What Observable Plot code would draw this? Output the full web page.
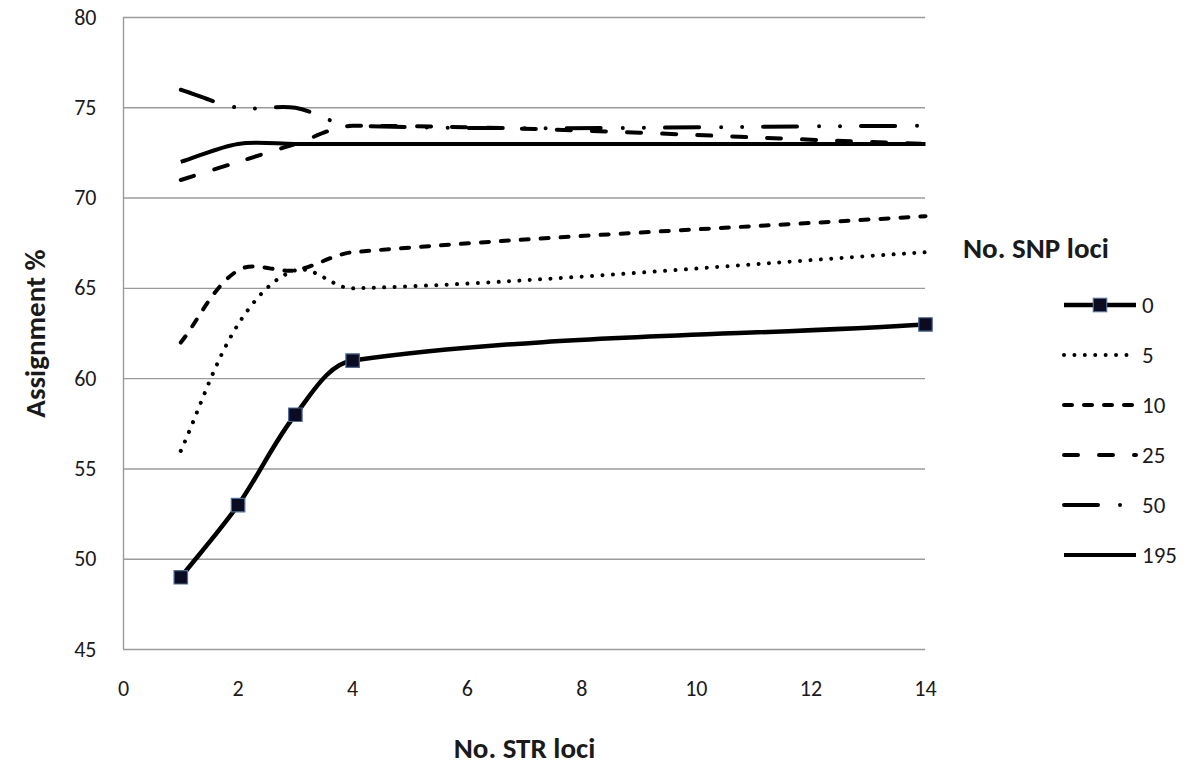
<!DOCTYPE html>
<html><head><meta charset="utf-8">
<script src="https://cdn.jsdelivr.net/npm/d3@7"></script>
<script src="https://cdn.jsdelivr.net/npm/@observablehq/plot@0.6"></script>
<style>
body{margin:0;background:#fff}
svg{display:block}
g[aria-label$="tick label"] text, g[aria-label$="tick label"]{font-size:22px}
</style>
</head><body><div id="chart"></div>
<script>
// ---- data ----
const strLoci = [1, 2, 3, 4, 14];
const snpLabels = ["0", "5", "10", "25", "50", "195"];
const snp0   = [49, 53, 58, 61, 63];
const snp5   = [56, 63, 66, 65, 67];
const snp10  = [62, 66, 66, 67, 69];
const snp25  = [71, 72, 73, 74, 73];
const snp50  = [76, 75, 75, 74, 74];
const snp195 = [72, 73, 73, 73, 73];
const xTicks = [0, 2, 4, 6, 8, 10, 12, 14];
const yTicks = [45, 50, 55, 60, 65, 70, 75, 80];
const xTitle = "No. STR loci";
const yTitle = "Assignment %";
const legendTitle = "No. SNP loci";

const seriesValues = [snp0, snp5, snp10, snp25, snp50, snp195];
const rows = snpLabels.flatMap((s, i) => strLoci.map((x, j) => ({snp: s, x, y: seriesValues[i][j]})));

// Excel-like smoothed line: tangent from neighbours, length scaled per segment
function smoothCurve(context) {
  let pts;
  const k = 0.32;
  return {
    areaStart() {}, areaEnd() {},
    lineStart() { pts = []; },
    point(x, y) { pts.push([+x, +y]); },
    lineEnd() {
      const n = pts.length;
      if (!n) return;
      context.moveTo(pts[0][0], pts[0][1]);
      if (n === 1) return;
      const T = pts.map((p, i) => {
        const a = pts[Math.max(0, i - 1)], b = pts[Math.min(n - 1, i + 1)];
        const dx = b[0] - a[0], dy = b[1] - a[1];
        const L = Math.hypot(dx, dy) || 1;
        return [dx / L, dy / L];
      });
      for (let i = 0; i < n - 1; i++) {
        const p = pts[i], q = pts[i + 1];
        const d = Math.hypot(q[0] - p[0], q[1] - p[1]) * k;
        context.bezierCurveTo(p[0] + T[i][0] * d, p[1] + T[i][1] * d,
                              q[0] - T[i + 1][0] * d, q[1] - T[i + 1][1] * d,
                              q[0], q[1]);
      }
    }
  };
}

// ---- styles ----
const dashes = {
  "0": null,
  "5": "0.01 10.4",
  "10": "8 12",
  "25": "14 21",
  "50": "34 22 0.01 21 0.01 21",
  "195": null
};
const widths = {"0": 4.5, "5": 4, "10": 4, "25": 4, "50": 4, "195": 4};
const FONT = "Carlito, Calibri, Lato, 'Open Sans', sans-serif";
const gridColor = "#9b9b9b";
const ink = "#1a1a1a";

const lineMarks = snpLabels.map(s => Plot.line(rows.filter(d => d.snp === s), {
  x: "x", y: "y", curve: smoothCurve,
  stroke: "#000", strokeWidth: widths[s],
  strokeDasharray: dashes[s] ?? undefined,
  strokeLinecap: dashes[s] ? "round" : "butt",
  strokeLinejoin: "round"
}));

const chart = Plot.plot({
  width: 1200, height: 777,
  marginLeft: 123, marginRight: 275, marginTop: 17, marginBottom: 128,
  style: {fontFamily: FONT, background: "#fff", color: ink, fontSize: "22px"},
  x: {domain: [0, 14], label: null},
  y: {domain: [45, 80], label: null},
  marks: [
    Plot.gridY(yTicks, {stroke: gridColor, strokeOpacity: 1, strokeWidth: 1.4}),
    Plot.ruleX([0], {stroke: gridColor, strokeWidth: 1.4}),
    ...lineMarks,
    Plot.dot(rows.filter(d => d.snp === "0"), {x: "x", y: "y", symbol: "square", r: 7.6, fill: "#0b0b22", stroke: "#4f6d96", strokeWidth: 1.2}),
    Plot.axisX(xTicks, {tickSize: 0, tickPadding: 31, fontSize: 22, fill: ink}),
    Plot.axisY(yTicks, {tickSize: 0, tickPadding: 27, fontSize: 22, fill: ink}),
    Plot.text([yTitle], {frameAnchor: "left", dx: -88, rotate: -90, textAnchor: "middle", lineAnchor: "middle", fontWeight: "bold", fontSize: 29, fill: ink}),
    Plot.text([xTitle], {frameAnchor: "bottom", dy: 99, textAnchor: "middle", lineAnchor: "middle", fontWeight: "bold", fontSize: 29, fill: ink})
  ]
});
document.getElementById("chart").appendChild(chart);

// ---- legend ----
const svg = d3.select(chart);
const lg = svg.append("g").attr("font-family", FONT).attr("fill", ink).attr("text-anchor", "start");
lg.append("text").attr("x", 963).attr("y", 248).attr("dominant-baseline", "central")
  .attr("font-size", 29).attr("font-weight", "bold").text(legendTitle);
snpLabels.forEach((s, i) => {
  const y = 305 + 50 * i;
  lg.append("line").attr("x1", 1064).attr("x2", 1136).attr("y1", y).attr("y2", y)
    .attr("stroke", "#000").attr("stroke-width", widths[s])
    .attr("stroke-dasharray", dashes[s])
    .attr("stroke-linecap", dashes[s] ? "round" : "butt");
  if (s === "0") {
    lg.append("rect").attr("x", 1100 - 6.7).attr("y", y - 6.7).attr("width", 13.4).attr("height", 13.4)
      .attr("fill", "#0b0b22").attr("stroke", "#4f6d96").attr("stroke-width", 1.2);
  }
  lg.append("text").attr("x", 1142).attr("y", y).attr("dominant-baseline", "central")
    .attr("font-size", 23).text(s);
});
</script>
</body></html>
